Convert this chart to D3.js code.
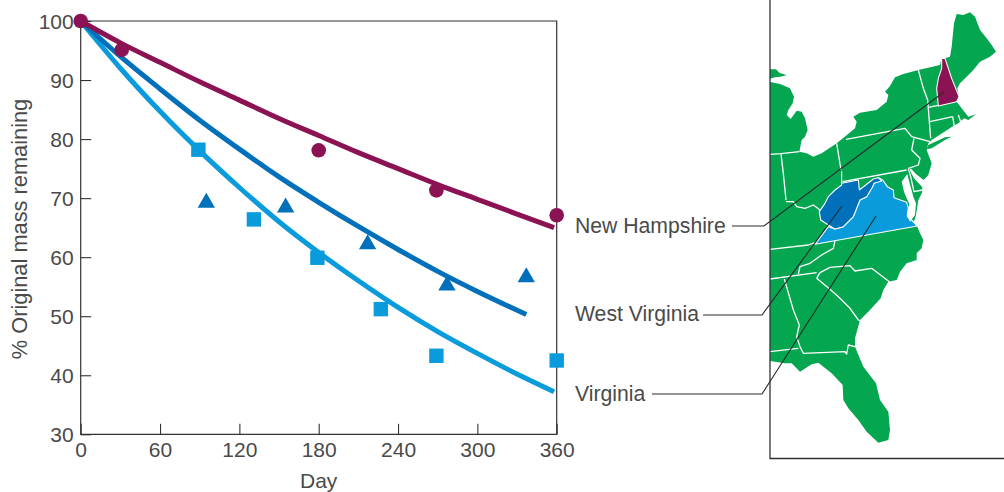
<!DOCTYPE html>
<html><head><meta charset="utf-8">
<style>html,body{margin:0;padding:0;background:#fff}svg{display:block}text{font-family:"Liberation Sans",Arial,sans-serif;fill:#4a4a4a;font-size:21px}</style>
<script src="https://cdn.jsdelivr.net/npm/d3@7"></script></head><body>
<svg id="c" width="1004" height="492"></svg>
<script>
const xTicks=[0,60,120,180,240,300,360];
const yTicks=[30,40,50,60,70,80,90,100];
const nhCurve=[[0,100],[30,96.3],[60,93],[90,89.7],[120,86.6],[150,83.5],[180,80.6],[210,77.7],[240,75],[270,72.3],[300,69.8],[330,67.3],[358,65]];
const wvCurve=[[0,100],[30,94],[60,88.5],[90,83.2],[120,78.3],[150,73.6],[180,69.3],[210,65.2],[240,61.3],[270,57.6],[300,54.2],[337,50.3]];
const vaCurve=[[0,100],[30,92],[60,84.7],[90,78],[120,71.8],[150,66],[180,60.8],[210,56],[240,51.5],[270,47.4],[300,43.7],[330,40.2],[358,37.2]];
const nhPoints=[[0,100],[31,95.1],[180,78.1],[269,71.3],[360,67.1]];
const wvPoints=[[95,69.2],[155,68.4],[217,62.2],[277,55.2],[337,56.6]];
const vaPoints=[[89,78.2],[131,66.4],[179,59.9],[227,51.2],[269,43.3],[360,42.5]];
const colors={nh:"#8b1253",wv:"#0170bb",va:"#0a9bdc",land:"#04a650",ink:"#333"};
const labels=[["New Hampshire",233,[[732,226],[764,226],[944,92]]],["West Virginia",321,[[703,315],[762,315],[842,206]]],["Virginia",401,[[652,394],[762,394],[876,216]]]];
// map outlines, in map units
const land=[[30,246],[60,252],[90,265],[102,290],[98,310],[85,330],[80,345],[92,357],[110,332],[125,335],[135,355],[143,390],[135,410],[125,420],[118,455],[140,460],[160,470],[185,460],[230,430],[258,407],[285,385],[290,365],[280,350],[300,338],[350,330],[380,305],[385,285],[375,275],[390,258],[405,232],[430,222],[475,210],[540,195],[545,175],[555,175],[570,170],[575,140],[582,70],[590,42],[610,45],[630,37],[645,50],[660,90],[680,115],[695,135],[708,155],[690,170],[660,185],[640,210],[620,230],[600,250],[592,265],[597,290],[590,305],[605,325],[625,350],[648,343],[625,360],[612,355],[595,370],[580,378],[515,420],[505,430],[500,450],[515,490],[505,525],[491,540],[468,522],[452,505],[450,512],[462,535],[487,562],[486,578],[475,600],[468,645],[462,665],[472,680],[478,695],[490,720],[485,745],[470,760],[470,780],[440,790],[420,815],[410,840],[385,845],[370,870],[362,895],[330,930],[300,960],[285,1015],[285,1040],[310,1100],[348,1150],[360,1200],[385,1235],[390,1290],[385,1320],[355,1328],[320,1295],[295,1260],[265,1225],[250,1200],[248,1155],[215,1120],[175,1088],[155,1093],[120,1115],[95,1090],[75,1090],[30,1083]];
const upper=[[30,208],[48,208],[58,218],[80,226],[60,230],[45,232],[30,236]];
const longIsland=[[505,435],[555,412],[575,410],[555,420],[515,445],[500,448]];
const chesapeake=[[442,522],[425,545],[432,575],[440,595],[448,612],[440,645],[450,665],[465,645],[468,610],[460,590],[445,535]];
const nhState=[[545,175],[555,175],[575,235],[597,290],[590,305],[535,318],[530,265],[535,235],[545,205]];
const wvState=[[245,515],[245,550],[295,540],[298,570],[340,537],[355,533],[365,543],[342,550],[338,560],[320,590],[300,600],[280,650],[250,680],[225,687],[205,675],[182,660],[178,635],[195,610],[205,590],[225,570],[245,555]];
const vaState=[[355,533],[368,540],[382,560],[400,570],[402,593],[440,607],[445,625],[442,650],[455,660],[472,678],[165,733],[205,680],[225,687],[250,680],[280,650],[300,600],[320,590],[340,555]];
const borders=[
[[30,463],[63,461],[118,455]],[[63,462],[70,520],[78,600]],[[230,430],[243,510]],
[[258,418],[435,385],[455,410],[510,425]],[[248,545],[440,510]],
[[462,415],[455,450],[480,475],[475,495],[445,505]],
[[475,210],[490,265],[503,300],[508,365],[512,415]],[[505,322],[535,316]],[[510,365],[578,350]],[[578,350],[583,380]],[[595,345],[602,365]],
[[78,605],[100,605],[110,620],[135,625],[160,615],[180,630]],
[[30,748],[145,735],[165,728]],[[225,722],[220,745],[185,765],[150,790],[120,800],[115,822]],
[[30,837],[170,818]],[[170,835],[180,818],[210,802],[270,797],[285,813],[335,805],[388,845]],
[[170,835],[210,868],[240,895],[270,925],[295,960],[300,962]],
[[73,837],[100,930],[118,975],[110,1010],[120,1040],[130,1060],[255,1055],[260,1062],[265,1035],[285,1040]],
[[30,1055],[115,1045]],
[[445,505],[452,530],[462,575],[487,570]]
];

const x=d3.scaleLinear().domain([0,360]).range([80.7,556.7]);
const y=d3.scaleLinear().domain([30,100]).range([434.3,21]);
const mx=d3.scaleLinear().domain([0,732]).range([760,1004]);
const my=d3.scaleLinear().domain([0,1476]).range([0,492]);
const svg=d3.select("#c");
const mapLine=d3.line().x(d=>mx(d[0])).y(d=>my(d[1]));
const poly=(p,f,s)=>svg.append("path").attr("d",mapLine(p)+"Z").attr("fill",f).attr("stroke",s||"none").attr("stroke-width",s?1.1:0).attr("stroke-linejoin","round");

// map
poly(land,colors.land);poly(upper,colors.land);poly(longIsland,colors.land);
svg.append("g").selectAll("path").data(borders).join("path").attr("d",mapLine).attr("fill","none").attr("stroke","#fff").attr("stroke-width",1.3).attr("stroke-linejoin","round");
poly(vaState,colors.va,"#fff");poly(wvState,colors.wv,"#fff");poly(nhState,colors.nh,"#fff");poly(chesapeake,"#fff");
svg.append("path").attr("d",d3.line()([[770,0],[770,458.5],[1004,458.5]])).attr("fill","none").attr("stroke",colors.ink).attr("stroke-width",1.3);

// leader labels
const pxLine=d3.line();
labels.forEach(([t,b,pts])=>{
 svg.append("text").attr("x",575).attr("y",b).style("font-size","21.2px").text(t);
 svg.append("path").attr("d",pxLine(pts)).attr("fill","none").attr("stroke","#2b2b2b").attr("stroke-width",1.1);
});

// axes frame
svg.append("path").attr("d",d3.line()([[x(0),y(100)],[x(360),y(100)],[x(360),y(30)],[x(0),y(30)],[x(0),y(100)]])).attr("fill","none").attr("stroke",colors.ink).attr("stroke-width",1.2);
const ax=svg.append("g").attr("transform",`translate(0,${y(30)})`).call(d3.axisBottom(x).tickValues(xTicks).tickSize(-10.5).tickSizeOuter(0).tickPadding(0));
const ay=svg.append("g").attr("transform",`translate(${x(0)},0)`).call(d3.axisLeft(y).tickValues(yTicks).tickSize(-10.5).tickSizeOuter(0).tickPadding(0));
[ax,ay].forEach(g=>{g.select(".domain").remove();g.selectAll("line").attr("stroke",colors.ink).attr("stroke-width",1.1);g.attr("font-family",null).attr("font-size",null);});
ax.selectAll("text").attr("y",0).attr("dy",null).attr("transform","translate(0,23)");
ay.selectAll("text").attr("x",-7).attr("dy","0.35em");
svg.append("text").attr("x",318.7).attr("y",488).attr("text-anchor","middle").text("Day");
svg.append("text").attr("transform","translate(27,229) rotate(-90)").attr("text-anchor","middle").style("font-size","21.8px").text("% Original mass remaining");

// curves
const cl=d3.line().x(d=>x(d[0])).y(d=>y(d[1])).curve(d3.curveMonotoneX);
[[vaCurve,colors.va],[wvCurve,colors.wv],[nhCurve,colors.nh]].forEach(([c,col])=>svg.append("path").attr("d",cl(c)).attr("fill","none").attr("stroke",col).attr("stroke-width",5));

// points
svg.append("g").selectAll("rect").data(vaPoints).join("rect").attr("x",d=>x(d[0])-7.2).attr("y",d=>y(d[1])-7.2).attr("width",14.4).attr("height",14.4).attr("fill",colors.va);
const tri=d3.symbol().type(d3.symbolTriangle).size(130);
svg.append("g").selectAll("path").data(wvPoints).join("path").attr("d",tri).attr("transform",d=>`translate(${x(d[0])},${y(d[1])})`).attr("fill",colors.wv);
svg.append("g").selectAll("circle").data(nhPoints).join("circle").attr("cx",d=>x(d[0])).attr("cy",d=>y(d[1])).attr("r",7.3).attr("fill",colors.nh);
</script></body></html>
